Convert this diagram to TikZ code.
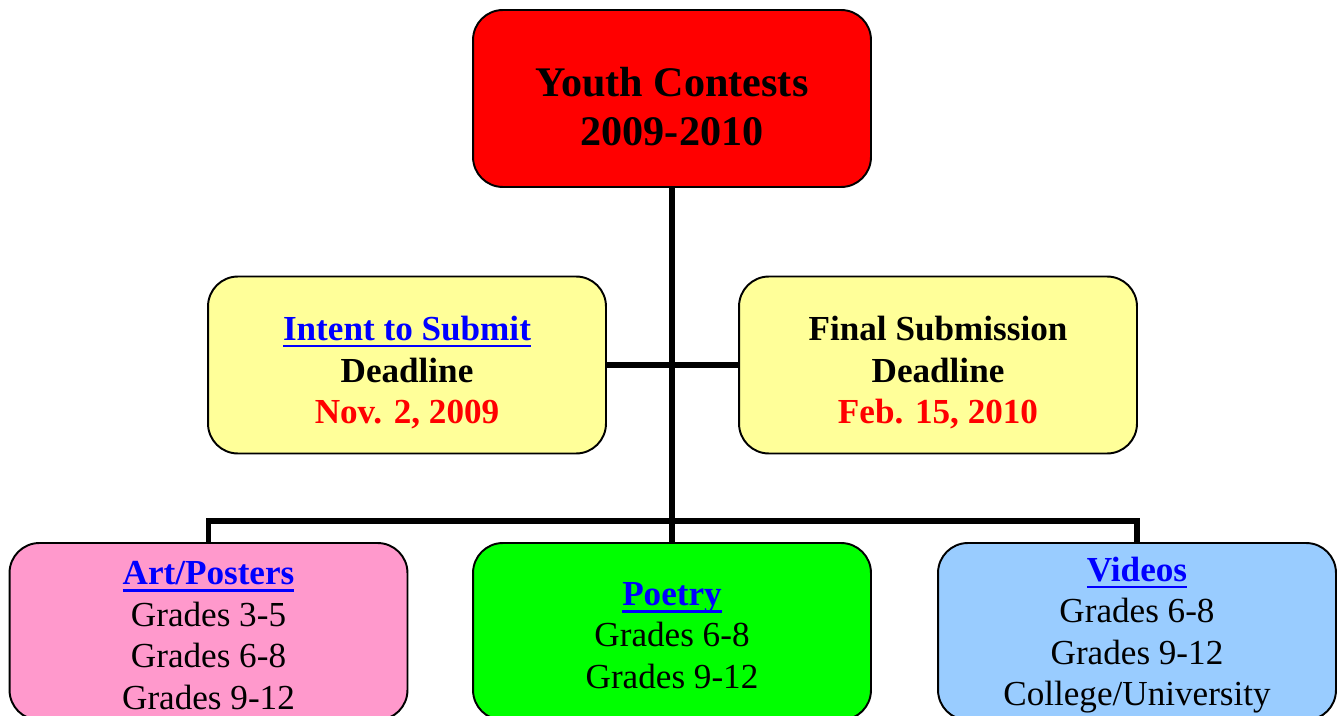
\documentclass[tikz,border=0pt]{standalone}
\usepackage{fontspec}
\setmainfont{Liberation Serif}
\definecolor{headred}{HTML}{FF0000}
\definecolor{noteyellow}{HTML}{FFFF99}
\definecolor{artpink}{HTML}{FF99CC}
\definecolor{poemgreen}{HTML}{00FF00}
\definecolor{videoblue}{HTML}{99CCFF}
\definecolor{linkblue}{HTML}{0000FF}
\newcommand{\linktext}[1]{\textcolor{linkblue}{\setbox0\hbox{#1}\rlap{\rule[-4pt]{\wd0}{1.4pt}}\box0}}
\newcommand{\topgap}[1]{\rule{0pt}{#1}}
\tikzset{
  contest/.style={draw=black, line width=1.1pt, rounded corners=17pt,
    minimum width=7.96cm, minimum height=3.54cm, align=center, inner sep=0pt},
  headbox/.style={contest, fill=headred, font=\fontsize{24}{27.5}\selectfont\bfseries},
  datebox/.style={contest, fill=noteyellow, font=\fontsize{20}{23.8}\selectfont\bfseries},
  gradebox/.style={contest, font=\fontsize{20}{23.6}\selectfont},
  link/.style={line width=3.1pt}
}
\begin{document}
\begin{tikzpicture}[x=0.02cm,y=-0.02cm]
    \useasboundingbox (0,0) rectangle (1341,716);
    \clip (0,0) rectangle (1341,716);
    \node[headbox] (youth) at (672,98.5) {\topgap{26pt}Youth Contests\\2009-2010};
    \node[datebox] (intent) at (407,365) {\topgap{22.6pt}\linktext{Intent to Submit}\\Deadline\\\textcolor{headred}{Nov. 2, 2009}};
    \node[datebox] (final) at (938,365) {\topgap{22.6pt}Final Submission\\Deadline\\\textcolor{headred}{Feb. 15, 2010}};
    \node[gradebox, fill=artpink] (art) at (208.5,631.5) {\topgap{17.8pt}\textbf{\linktext{Art/Posters}}\\Grades 3-5\\Grades 6-8\\Grades 9-12};
    \node[gradebox, fill=poemgreen] (poetry) at (672,631.5) {\topgap{17.8pt}\textbf{\linktext{Poetry}}\\Grades 6-8\\Grades 9-12};
    \node[gradebox, fill=videoblue] (videos) at (1137,631.5) {\topgap{17.8pt}\textbf{\linktext{Videos}}\\Grades 6-8\\Grades 9-12\\College/University};
    \coordinate (bus) at (672,521);
    % tree lines
    \draw[link] (youth.south) -- (poetry.north);
    \draw[link] (intent.east) -- (final.west);
    \draw[link] (art.north) |- (bus) -| (videos.north);
\end{tikzpicture}
\end{document}
